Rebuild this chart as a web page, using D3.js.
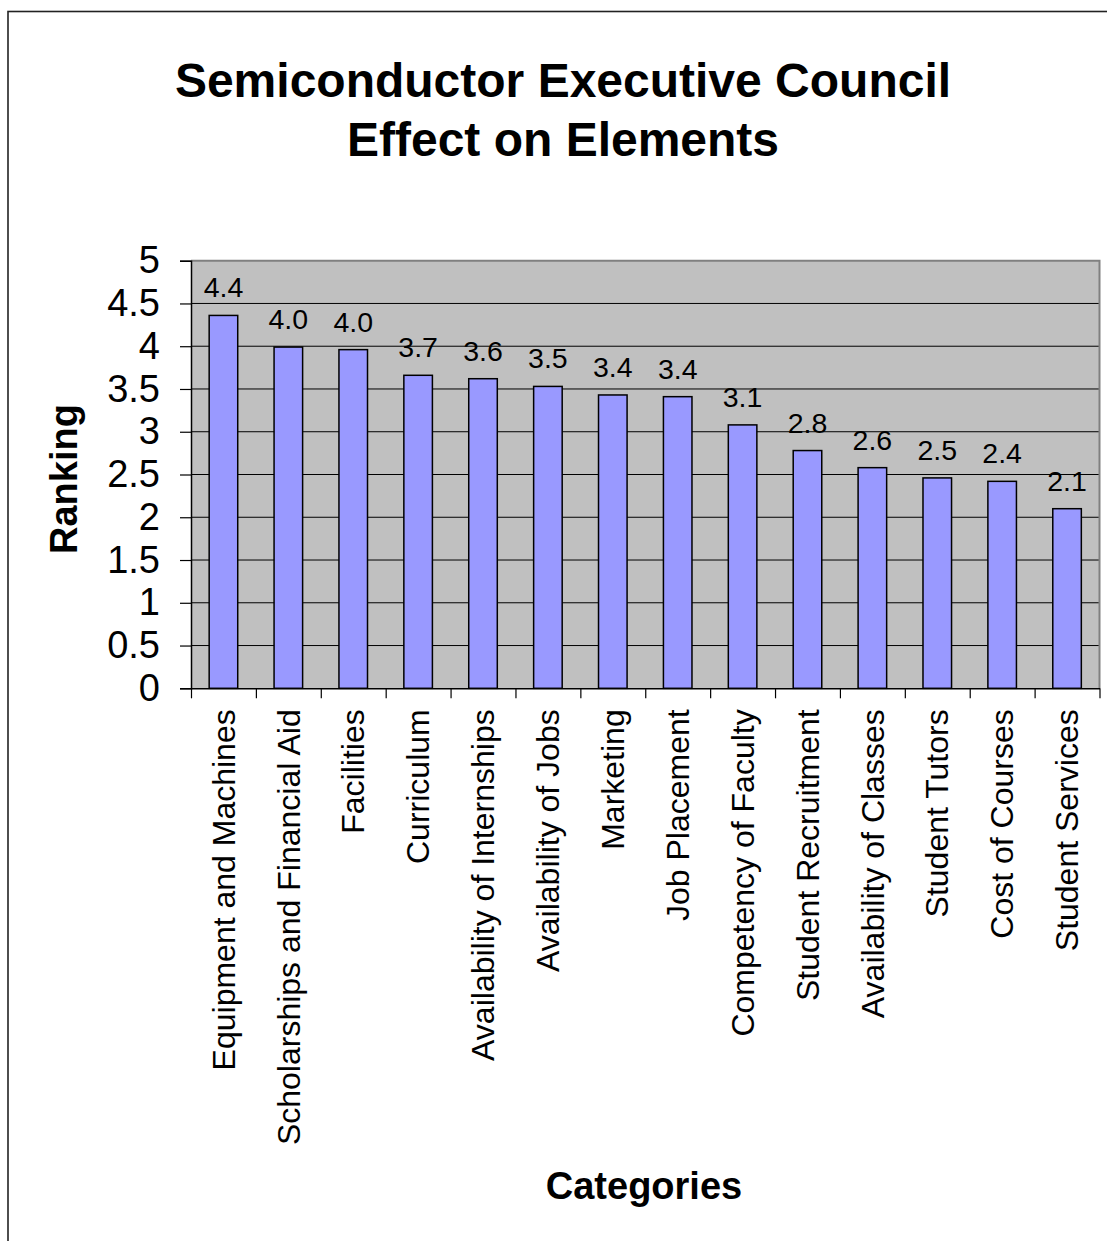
<!DOCTYPE html>
<html>
<head>
<meta charset="utf-8">
<script src="https://cdn.jsdelivr.net/npm/d3@7"></script>
<style>
  html, body { margin: 0; padding: 0; background: #fff; }
  svg { display: block; font-family: "Liberation Sans", Arial, sans-serif; }
</style>
</head>
<body>
<svg id="chart" width="1107" height="1241"></svg>
<script>
// Survey elements and their average ranking
const categories = [
  "Equipment and Machines",
  "Scholarships and Financial Aid",
  "Facilities",
  "Curriculum",
  "Availability of Internships",
  "Availability of Jobs",
  "Marketing",
  "Job Placement",
  "Competency of Faculty",
  "Student Recruitment",
  "Availability of Classes",
  "Student Tutors",
  "Cost of Courses",
  "Student Services"
];
const rankings = [4.36, 3.99, 3.96, 3.66, 3.62, 3.53, 3.43, 3.41, 3.08, 2.78, 2.58, 2.46, 2.42, 2.10];
const yTicks = [0, 0.5, 1, 1.5, 2, 2.5, 3, 3.5, 4, 4.5, 5];
const titleLines = ["Semiconductor Executive Council", "Effect on Elements"];

const svg = d3.select("#chart");

// outer chart frame
svg.append("rect")
  .attr("x", 8).attr("y", 11.5)
  .attr("width", 1300).attr("height", 1400)
  .attr("fill", "#fff")
  .attr("stroke", "#222").attr("stroke-width", 1.6);

const plot = { left: 191, right: 1099.5, top: 260.7, bottom: 688.3 };

const x = d3.scaleBand()
  .domain(categories)
  .range([plot.left, plot.right])
  .paddingInner(0.56)
  .paddingOuter(0.28);

const slots = d3.scaleLinear()
  .domain([0, categories.length])
  .range([plot.left, plot.right]);

const y = d3.scaleLinear()
  .domain([0, 5])
  .range([plot.bottom, plot.top]);

// plot background
svg.append("rect")
  .attr("x", plot.left).attr("y", plot.top)
  .attr("width", plot.right - plot.left).attr("height", plot.bottom - plot.top)
  .attr("fill", "#c0c0c0");

// horizontal gridlines
svg.append("g")
  .selectAll("line")
  .data(yTicks.filter(v => v > 0 && v < 5))
  .join("line")
  .attr("x1", plot.left).attr("x2", plot.right)
  .attr("y1", d => y(d)).attr("y2", d => y(d))
  .attr("stroke", "#000").attr("stroke-width", 1);

// plot border (top and right)
svg.append("path")
  .attr("d", `M${plot.left},${plot.top}H${plot.right}V${plot.bottom}`)
  .attr("fill", "none")
  .attr("stroke", "#808080").attr("stroke-width", 2);

// bars
svg.append("g")
  .selectAll("rect")
  .data(rankings)
  .join("rect")
  .attr("x", (d, i) => x(categories[i]))
  .attr("width", x.bandwidth())
  .attr("y", d => y(d))
  .attr("height", d => y(0) - y(d))
  .attr("fill", "#9999ff")
  .attr("stroke", "#000").attr("stroke-width", 1.5);

// value labels
svg.append("g")
  .selectAll("text")
  .data(rankings)
  .join("text")
  .attr("x", (d, i) => x(categories[i]) + x.bandwidth() / 2)
  .attr("y", d => y(d) - 18)
  .attr("text-anchor", "middle")
  .attr("font-size", 28.5)
  .attr("fill", "#000")
  .text(d => d3.format(".1f")(d));

// y axis
const yAxis = svg.append("g")
  .attr("transform", `translate(${plot.left},0)`)
  .call(d3.axisLeft(y).tickValues(yTicks).tickSize(11).tickPadding(20).tickFormat(d => String(d)));
yAxis.select(".domain").attr("stroke", "#000").attr("stroke-width", 1.5);
yAxis.selectAll(".tick line").attr("stroke", "#000").attr("stroke-width", 1.2);
yAxis.selectAll(".tick text")
  .attr("font-size", 38)
  .attr("font-family", "Liberation Sans, Arial, sans-serif")
  .attr("fill", "#000");

// x axis: slot divider ticks
const xTicks = svg.append("g")
  .attr("transform", `translate(0,${plot.bottom})`)
  .call(d3.axisBottom(slots).tickValues(d3.range(categories.length + 1)).tickSize(10).tickSizeOuter(0).tickFormat(""));
xTicks.select(".domain").attr("stroke", "#000").attr("stroke-width", 1.5);
xTicks.selectAll(".tick line").attr("stroke", "#000").attr("stroke-width", 1.2);

// x axis: rotated category labels
const xLabels = svg.append("g")
  .attr("transform", `translate(0,${plot.bottom})`)
  .call(d3.axisBottom(x).tickSize(0).tickPadding(0));
xLabels.select(".domain").remove();
xLabels.selectAll(".tick text")
  .attr("font-size", 32)
  .attr("font-family", "Liberation Sans, Arial, sans-serif")
  .attr("fill", "#000")
  .attr("text-anchor", "end")
  .attr("transform", "rotate(-90)")
  .attr("x", -21)
  .attr("y", 0)
  .attr("dy", "0.35em");

// title
svg.append("g")
  .selectAll("text")
  .data(titleLines)
  .join("text")
  .attr("x", 563)
  .attr("y", (d, i) => 97 + i * 59)
  .attr("text-anchor", "middle")
  .attr("font-size", 48)
  .attr("font-weight", "bold")
  .text(d => d);

// axis titles
svg.append("text")
  .attr("x", 644)
  .attr("y", 1199)
  .attr("text-anchor", "middle")
  .attr("font-size", 38)
  .attr("font-weight", "bold")
  .text("Categories");

svg.append("text")
  .attr("transform", "translate(77,479) rotate(-90)")
  .attr("text-anchor", "middle")
  .attr("font-size", 38)
  .attr("font-weight", "bold")
  .text("Ranking");
</script>
</body>
</html>
